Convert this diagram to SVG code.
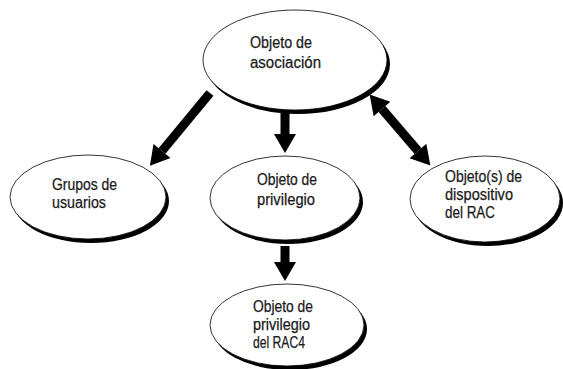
<svg xmlns="http://www.w3.org/2000/svg" width="563" height="369" viewBox="0 0 563 369">
<style>
.shadow{fill:#000}
.body{fill:#fff;stroke:#000;stroke-width:0.8}
.lbl{font-family:"Liberation Sans",Arial,sans-serif;font-size:16px;fill:#1a1a1a;stroke:#1a1a1a;stroke-width:0.25}
.conn{stroke:#000;stroke-width:9;fill:none}
</style>
<defs>
<marker id="ah" markerUnits="userSpaceOnUse" markerWidth="20" markerHeight="24" refX="0" refY="12" orient="auto-start-reverse" overflow="visible">
<path d="M0,1 L19,12 L0,23 z" fill="#000"/>
</marker>
</defs>
<rect width="563" height="369" fill="#fff"/>
<g id="connectors">
<line class="conn" x1="210" y1="93" x2="162" y2="151" marker-end="url(#ah)"/>
<line class="conn" x1="285" y1="113" x2="285" y2="134" marker-end="url(#ah)"/>
<line class="conn" x1="285" y1="246" x2="285" y2="262" marker-end="url(#ah)"/>
<line class="conn" x1="382" y1="109" x2="418" y2="151" marker-start="url(#ah)" marker-end="url(#ah)"/>
</g>
<g id="asociacion">
<ellipse class="shadow" cx="298" cy="64" rx="92" ry="50"/>
<ellipse class="body" cx="295" cy="60" rx="92" ry="50"/>
<text class="lbl" x="250" y="48" textLength="62" lengthAdjust="spacingAndGlyphs">Objeto de</text>
<text class="lbl" x="250" y="68" textLength="71" lengthAdjust="spacingAndGlyphs">asociación</text>
</g>
<g id="grupos">
<ellipse class="shadow" cx="91" cy="201" rx="78" ry="42"/>
<ellipse class="body" cx="88" cy="197" rx="78" ry="42"/>
<text class="lbl" x="52" y="190" textLength="65" lengthAdjust="spacingAndGlyphs">Grupos de</text>
<text class="lbl" x="52" y="208" textLength="54" lengthAdjust="spacingAndGlyphs">usuarios</text>
</g>
<g id="privilegio">
<ellipse class="shadow" cx="288" cy="202" rx="75" ry="42"/>
<ellipse class="body" cx="285" cy="198" rx="75" ry="42"/>
<text class="lbl" x="257" y="185" textLength="60" lengthAdjust="spacingAndGlyphs">Objeto de</text>
<text class="lbl" x="257" y="205" textLength="58" lengthAdjust="spacingAndGlyphs">privilegio</text>
</g>
<g id="dispositivo">
<ellipse class="shadow" cx="488" cy="203" rx="75" ry="43"/>
<ellipse class="body" cx="485" cy="199" rx="75" ry="43"/>
<text class="lbl" x="445" y="182" textLength="77" lengthAdjust="spacingAndGlyphs">Objeto(s) de</text>
<text class="lbl" x="445" y="200" textLength="68" lengthAdjust="spacingAndGlyphs">dispositivo</text>
<text class="lbl" x="445" y="218" textLength="50" lengthAdjust="spacingAndGlyphs">del RAC</text>
</g>
<g id="rac4">
<ellipse class="shadow" cx="290" cy="329" rx="77" ry="41"/>
<ellipse class="body" cx="287" cy="325" rx="77" ry="41"/>
<text class="lbl" x="253" y="312" textLength="60" lengthAdjust="spacingAndGlyphs">Objeto de</text>
<text class="lbl" x="253" y="330" textLength="57" lengthAdjust="spacingAndGlyphs">privilegio</text>
<text class="lbl" x="253" y="348" textLength="52" lengthAdjust="spacingAndGlyphs">del RAC4</text>
</g>
</svg>
